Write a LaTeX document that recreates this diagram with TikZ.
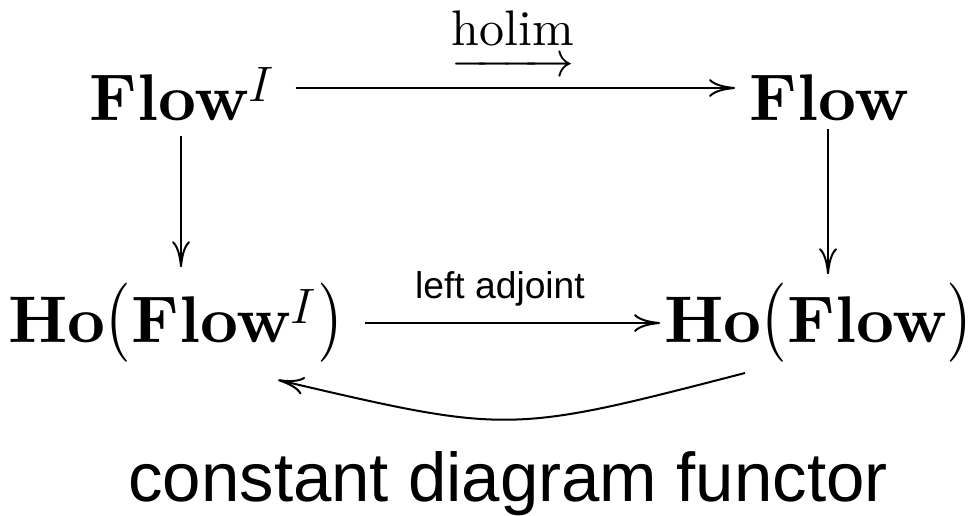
\documentclass[tikz,border=0pt]{standalone}
\usepackage{amsmath}
\usepackage{graphicx}
\usepackage{fontspec}
\newfontfamily\arialfont{Liberation Sans}
\newfontfamily\lmbf{lmroman10-bold.otf}
\newfontfamily\lmrm{lmroman10-regular.otf}
\usetikzlibrary{arrows.meta}
\newcommand{\holimlabel}{\vtop{\halign{\hfil##\hfil\cr{\lmrm holim}\cr\noalign{\nointerlineskip\kern 6.5pt}\rightarrowfill\cr}}}
\newcommand{\lpar}{{\lmrm\scalebox{1}[1.2]{(}}}
\newcommand{\rpar}{{\lmrm\scalebox{1}[1.2]{)}}}
\begin{document}
\begin{tikzpicture}[x=0.5pt,y=-0.5pt,
  obj/.style={inner sep=0pt, anchor=base west, font=\fontsize{33}{39}\selectfont\lmbf},
  arr/.style={line width=1pt, -{To[length=13pt,width=9pt]}},
  lbl/.style={inner sep=0pt, anchor=base}]
\useasboundingbox (0,0) rectangle (979,515);
\node[obj] (FI) at (89,120) {Flow$^{I}$};
\node[obj] (F) at (749,120) {Flow};
\node[obj] (HFI) at (8,342) {Ho\lpar Flow$^{I}$\rpar};
\node[obj] (HF) at (664,342) {Ho\lpar Flow\rpar};
\coordinate (ytop) at (0,88);
\coordinate (ybot) at (0,323);
\coordinate (xl) at (181,0);
\coordinate (xr) at (828,0);
\draw[arr, shorten <=10pt, shorten >=7pt] (FI.east |- ytop) -- (F.west |- ytop);
\draw[arr, shorten <=7.5pt, shorten >=7.5pt] (xl |- FI.south) -- (xl |- HFI.north);
\draw[arr, shorten <=4pt, shorten >=4pt] (xr |- F.south) -- (xr |- HF.north);
\draw[arr, shorten <=11pt, shorten >=2pt] (HFI.east |- ybot) -- (HF.west |- ybot);
\coordinate (c1) at (745,373);
\coordinate (c2) at (278,380);
\draw[arr] (c1) .. controls (509,434) .. (c2);
\node[lbl, font=\fontsize{25}{30}\selectfont] (holim) at (513,45) {\holimlabel};
\node[lbl, font=\arialfont\fontsize{18.6}{22}\selectfont] (la) at (500,298) {left adjoint};
\node[lbl, font=\arialfont\fontsize{34.5}{41}\selectfont] (cd) at (508,501) {constant diagram functor};
\end{tikzpicture}
\end{document}
